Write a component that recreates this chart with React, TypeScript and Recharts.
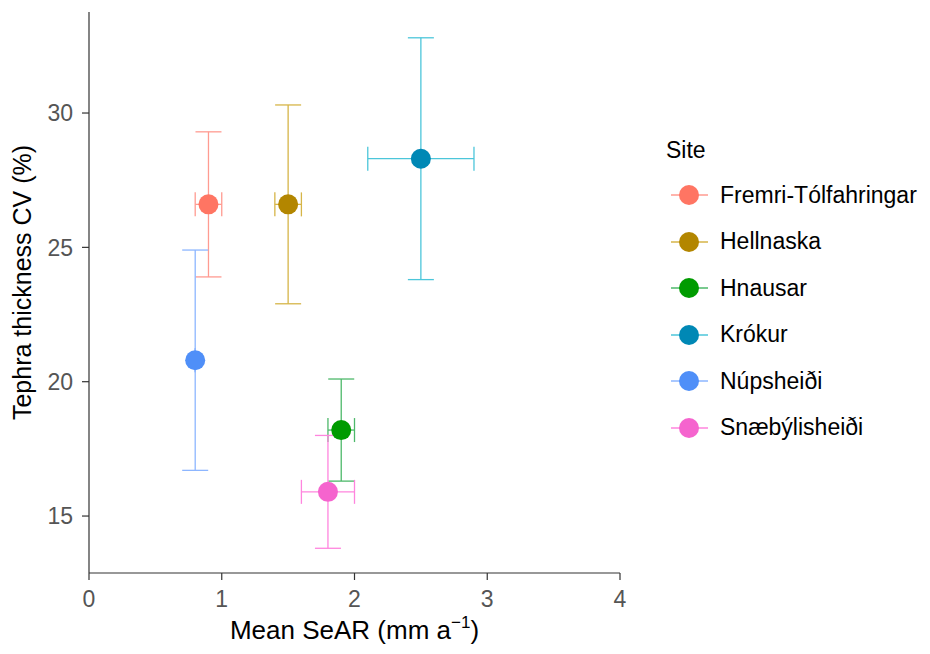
import { ScatterChart, Scatter, XAxis, YAxis, ErrorBar, Legend } from "recharts";

const sites = [
  "Fremri-Tólfahringar",
  "Hellnaska",
  "Hnausar",
  "Krókur",
  "Núpsheiði",
  "Snæbýlisheiði",
];
const meanSeAR = [0.9, 1.5, 1.9, 2.5, 0.8, 1.8];
const seARLow = [0.8, 1.4, 1.8, 2.1, 0.8, 1.6];
const seARHigh = [1.0, 1.6, 2.0, 2.9, 0.8, 2.0];
const tephraCV = [26.6, 26.6, 18.2, 28.3, 20.8, 15.9];
const cvLow = [23.9, 22.9, 16.3, 23.8, 16.7, 13.8];
const cvHigh = [29.3, 30.3, 20.1, 32.8, 24.9, 18.0];

const pointColors = ["#FF7563", "#B38600", "#009B00", "#0088B5", "#4F8FF8", "#F564CE"];
const barColors = ["#FF9B91", "#D6B548", "#4DB86A", "#4CC6DA", "#8DB6FF", "#FF85DE"];

const xTicks = [0, 1, 2, 3, 4];
const yTicks = [15, 20, 25, 30];

const seriesData = sites.map((site, i) => [
  {
    site,
    x: meanSeAR[i],
    y: tephraCV[i],
    xErr: [meanSeAR[i] - seARLow[i], seARHigh[i] - meanSeAR[i]],
    yErr: [tephraCV[i] - cvLow[i], cvHigh[i] - tephraCV[i]],
  },
]);

const FONT = "'Liberation Sans', Arial, sans-serif";

const XTick = (props: any) => (
  <text
    x={props.x}
    y={props.y}
    dy="0.71em"
    textAnchor="middle"
    fontSize={23}
    fill="#555"
    fontFamily={FONT}
  >
    {props.payload.value}
  </text>
);

const YTick = (props: any) => (
  <text
    x={props.x}
    y={props.y}
    dy="0.36em"
    textAnchor="end"
    fontSize={23}
    fill="#555"
    fontFamily={FONT}
  >
    {props.payload.value}
  </text>
);

const renderXLabel = (props: any) => {
  const vb = props.viewBox;
  return (
    <text
      x={vb.x + vb.width / 2}
      y={vb.y + 66}
      textAnchor="middle"
      fontSize={26}
      fill="#000"
      fontFamily={FONT}
    >
      Mean SeAR (mm a
      <tspan dy={-11} fontSize={17}>
        −1
      </tspan>
      <tspan dy={11}>)</tspan>
    </text>
  );
};

const renderYLabel = (props: any) => {
  const vb = props.viewBox;
  const cx = 31;
  const cy = vb.y + vb.height / 2 - 10;
  return (
    <text
      x={cx}
      y={cy}
      transform={`rotate(-90, ${cx}, ${cy})`}
      textAnchor="middle"
      fontSize={25}
      fill="#000"
      fontFamily={FONT}
    >
      Tephra thickness CV (%)
    </text>
  );
};

const renderLegend = () => (
  <div style={{ fontFamily: FONT, color: "#000" }}>
    <div style={{ height: 44, lineHeight: "44px", fontSize: 23, paddingLeft: 6 }}>Site</div>
    {sites.map((site, i) => (
      <div key={site} style={{ height: 46.5, display: "flex", alignItems: "center" }}>
        <svg width={50} height={24} style={{ flexShrink: 0 }}>
          <line x1={11} x2={48} y1={12} y2={12} stroke={barColors[i]} strokeWidth={1.3} />
          <circle cx={29} cy={12} r={10} fill={pointColors[i]} />
        </svg>
        <span style={{ fontSize: 23, marginLeft: 10, whiteSpace: "nowrap" }}>{site}</span>
      </div>
    ))}
  </div>
);

export default function App() {
  return (
    <div style={{ position: "absolute", left: 0, top: 0, width: 930, height: 654, background: "#fff", overflow: "hidden" }}>
      <ScatterChart
        width={930}
        height={654}
        margin={{ top: 12, right: 40, bottom: 0, left: 0 }}
      >
        <XAxis
          type="number"
          dataKey="x"
          domain={[0, 4]}
          ticks={xTicks}
          allowDataOverflow
          height={81}
          tickSize={7}
          tickMargin={11}
          axisLine={{ stroke: "#333", strokeWidth: 1.2 }}
          tickLine={{ stroke: "#333", strokeWidth: 1.2 }}
          tick={XTick}
          label={renderXLabel}
        />
        <YAxis
          type="number"
          dataKey="y"
          domain={[12.88, 33.76]}
          ticks={yTicks}
          allowDataOverflow
          width={89}
          tickSize={7}
          tickMargin={9}
          axisLine={{ stroke: "#333", strokeWidth: 1.2 }}
          tickLine={{ stroke: "#333", strokeWidth: 1.2 }}
          tick={YTick}
          label={renderYLabel}
        />
        <Legend
          layout="vertical"
          align="right"
          verticalAlign="middle"
          wrapperStyle={{ position: "absolute", left: 660, top: 128, width: 270 }}
          content={renderLegend}
        />
        {sites.map((site, i) => (
          <Scatter
            key={site}
            name={site}
            data={seriesData[i]}
            isAnimationActive={false}
            shape={(p: any) => <circle cx={p.cx} cy={p.cy} r={10} fill={pointColors[i]} />}
          >
            <ErrorBar
              dataKey="yErr"
              direction="y"
              width={13}
              stroke={barColors[i]}
              strokeWidth={1.3}
              isAnimationActive={false}
            />
            <ErrorBar
              dataKey="xErr"
              direction="x"
              width={12}
              stroke={barColors[i]}
              strokeWidth={1.3}
              isAnimationActive={false}
            />
          </Scatter>
        ))}
      </ScatterChart>
    </div>
  );
}
